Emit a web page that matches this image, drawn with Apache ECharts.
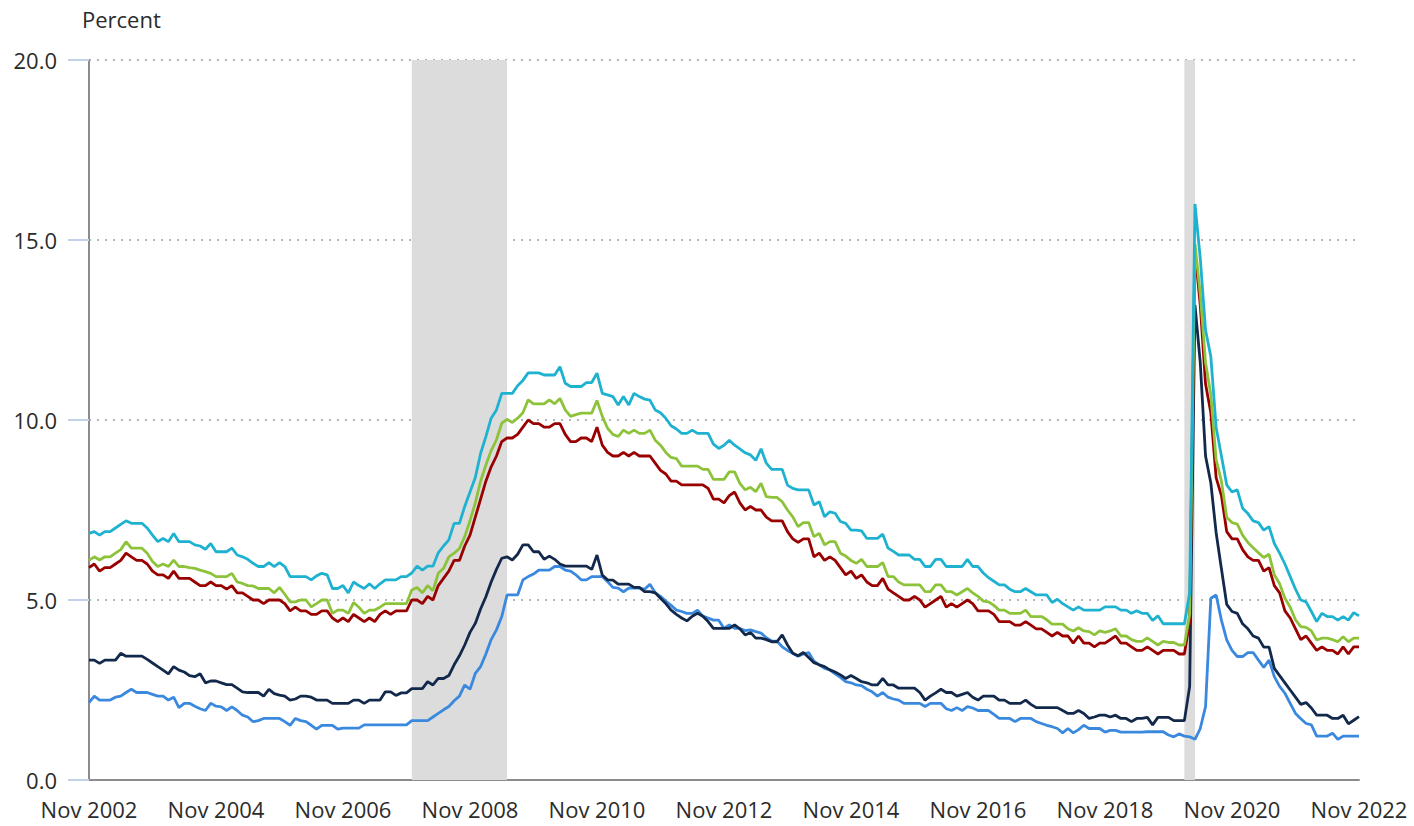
<!DOCTYPE html>
<html>
<head>
<meta charset="utf-8">
<title>Alternative measures of labor underutilization</title>
<script src="https://cdn.jsdelivr.net/npm/echarts@6/dist/echarts.min.js"></script>
<style>
  html, body { margin: 0; padding: 0; background: #fff; }
  #chart { width: 1414px; height: 826px; }
</style>
</head>
<body>
<div id="chart"></div>
<script>
// monthly, Nov 2002 .. Nov 2022 (each row starts in November)
const MONTHS = ['Jan', 'Feb', 'Mar', 'Apr', 'May', 'Jun', 'Jul', 'Aug', 'Sep', 'Oct', 'Nov', 'Dec'];
const categories = [];
for (let i = 0; i <= 240; i++) {
  const m = 10 + i;
  categories.push(MONTHS[m % 12] + ' ' + (2002 + Math.floor(m / 12)));
}

const yTicks = [0, 5, 10, 15, 20];

// recession shading, as [start, end] category labels
const recessions = [
  ['Dec 2007', 'Jun 2009'],
  ['Feb 2020', 'Apr 2020'],
];

const u1 = [
  2.15, 2.33, 2.22, 2.22, 2.22, 2.3, 2.33, 2.43, 2.52, 2.43, 2.43, 2.43,
  2.38, 2.33, 2.33, 2.22, 2.3, 2.01, 2.13, 2.13, 2.05, 1.98, 1.93, 2.13,
  2.05, 2.03, 1.93, 2.03, 1.93, 1.8, 1.75, 1.62, 1.65, 1.71, 1.71, 1.71,
  1.71, 1.62, 1.52, 1.71, 1.65, 1.62, 1.52, 1.41, 1.52, 1.52, 1.52, 1.41,
  1.44, 1.44, 1.44, 1.44, 1.53, 1.53, 1.53, 1.53, 1.53, 1.53, 1.53, 1.53,
  1.53, 1.65, 1.65, 1.65, 1.65, 1.75, 1.85, 1.95, 2.04, 2.2, 2.33, 2.64,
  2.52, 2.96, 3.15, 3.5, 3.9, 4.17, 4.54, 5.14, 5.14, 5.14, 5.56, 5.65,
  5.72, 5.83, 5.83, 5.83, 5.93, 5.93, 5.83, 5.8, 5.7, 5.56, 5.56, 5.65,
  5.65, 5.65, 5.51, 5.35, 5.33, 5.23, 5.33, 5.33, 5.33, 5.3, 5.44, 5.2,
  5.1, 4.97, 4.85, 4.72, 4.68, 4.63, 4.63, 4.72, 4.55, 4.5, 4.44, 4.44,
  4.21, 4.31, 4.21, 4.21, 4.15, 4.17, 4.12, 4.08, 3.95, 3.86, 3.86, 3.7,
  3.6, 3.52, 3.44, 3.5, 3.54, 3.3, 3.2, 3.1, 3.06, 2.95, 2.85, 2.73,
  2.7, 2.64, 2.62, 2.52, 2.45, 2.33, 2.43, 2.3, 2.25, 2.22, 2.13, 2.13,
  2.13, 2.13, 2.04, 2.13, 2.13, 2.13, 1.98, 1.93, 2.01, 1.93, 2.04, 2.0,
  1.93, 1.93, 1.93, 1.82, 1.71, 1.71, 1.71, 1.62, 1.71, 1.71, 1.71, 1.62,
  1.57, 1.52, 1.48, 1.43, 1.31, 1.43, 1.31, 1.4, 1.52, 1.43, 1.43, 1.43,
  1.33, 1.38, 1.38, 1.33, 1.33, 1.33, 1.33, 1.33, 1.34, 1.34, 1.34, 1.34,
  1.25, 1.2, 1.28, 1.22, 1.2, 1.13, 1.43, 2.04, 5.05, 5.14, 4.44, 3.89,
  3.6, 3.43, 3.43, 3.54, 3.54, 3.33, 3.13, 3.33, 2.87, 2.6, 2.41, 2.13,
  1.85, 1.7, 1.57, 1.53, 1.22, 1.22, 1.22, 1.3, 1.13, 1.22, 1.22, 1.22,
  1.22
];

const u2 = [
  3.33, 3.33, 3.24, 3.33, 3.33, 3.33, 3.52, 3.44, 3.44, 3.44, 3.44, 3.35,
  3.25, 3.15, 3.05, 2.95, 3.15, 3.05, 3.0, 2.9, 2.87, 2.95, 2.7, 2.75,
  2.75, 2.7, 2.65, 2.65, 2.55, 2.45, 2.43, 2.43, 2.43, 2.33, 2.52, 2.4,
  2.36, 2.33, 2.22, 2.25, 2.33, 2.33, 2.3, 2.22, 2.22, 2.22, 2.13, 2.13,
  2.13, 2.13, 2.22, 2.22, 2.13, 2.22, 2.22, 2.22, 2.45, 2.45, 2.35, 2.42,
  2.42, 2.54, 2.54, 2.54, 2.73, 2.64, 2.82, 2.82, 2.9, 3.2, 3.45, 3.75,
  4.1, 4.35, 4.75, 5.09, 5.5, 5.85, 6.16, 6.2, 6.11, 6.27, 6.53, 6.53,
  6.34, 6.34, 6.13, 6.22, 6.13, 6.0, 5.94, 5.94, 5.94, 5.94, 5.94, 5.85,
  6.25, 5.69, 5.56, 5.55, 5.44, 5.44, 5.44, 5.35, 5.35, 5.23, 5.23, 5.2,
  5.05, 4.9, 4.72, 4.6, 4.5, 4.42, 4.55, 4.63, 4.55, 4.4, 4.21, 4.21,
  4.21, 4.21, 4.31, 4.2, 4.03, 4.1, 3.94, 3.94, 3.9, 3.84, 3.84, 4.03,
  3.75, 3.52, 3.45, 3.54, 3.4, 3.26, 3.2, 3.15, 3.06, 3.0, 2.92, 2.82,
  2.9, 2.82, 2.73, 2.7, 2.64, 2.64, 2.82, 2.64, 2.64, 2.55, 2.55, 2.55,
  2.55, 2.43, 2.22, 2.33, 2.42, 2.52, 2.43, 2.43, 2.33, 2.38, 2.43, 2.3,
  2.22, 2.33, 2.33, 2.33, 2.22, 2.22, 2.13, 2.13, 2.13, 2.22, 2.1, 2.01,
  2.01, 2.01, 2.01, 2.01, 1.93, 1.85, 1.85, 1.93, 1.85, 1.71, 1.75, 1.8,
  1.8, 1.75, 1.8, 1.71, 1.71, 1.62, 1.71, 1.71, 1.74, 1.53, 1.74, 1.74,
  1.74, 1.65, 1.65, 1.65, 2.6, 13.2, 11.6, 9.0, 8.25, 6.87, 5.87, 4.88,
  4.68, 4.63, 4.34, 4.2, 4.0, 3.94, 3.69, 3.69, 3.1, 2.9, 2.7, 2.5,
  2.3, 2.1, 2.15, 2.0, 1.8, 1.8, 1.8, 1.71, 1.71, 1.8, 1.56, 1.66,
  1.76
];

const u3 = [
  5.9, 6.0, 5.8, 5.9, 5.9, 6.0, 6.1, 6.3, 6.2, 6.1, 6.1, 6.0,
  5.8, 5.7, 5.7, 5.6, 5.8, 5.6, 5.6, 5.6, 5.5, 5.4, 5.4, 5.5,
  5.4, 5.4, 5.3, 5.4, 5.2, 5.2, 5.1, 5.0, 5.0, 4.9, 5.0, 5.0,
  5.0, 4.9, 4.7, 4.8, 4.7, 4.7, 4.6, 4.6, 4.7, 4.7, 4.5, 4.4,
  4.5, 4.4, 4.6, 4.5, 4.4, 4.5, 4.4, 4.6, 4.7, 4.6, 4.7, 4.7,
  4.7, 5.0, 5.0, 4.9, 5.1, 5.0, 5.4, 5.6, 5.8, 6.1, 6.1, 6.5,
  6.8, 7.3, 7.8, 8.3, 8.7, 9.0, 9.4, 9.5, 9.5, 9.6, 9.8, 10.0,
  9.9, 9.9, 9.8, 9.8, 9.9, 9.9, 9.6, 9.4, 9.4, 9.5, 9.5, 9.4,
  9.8, 9.3, 9.1, 9.0, 9.0, 9.1, 9.0, 9.1, 9.0, 9.0, 9.0, 8.8,
  8.6, 8.5, 8.3, 8.3, 8.2, 8.2, 8.2, 8.2, 8.2, 8.1, 7.8, 7.8,
  7.7, 7.9, 8.0, 7.7, 7.5, 7.6, 7.5, 7.5, 7.3, 7.2, 7.2, 7.2,
  6.9, 6.7, 6.6, 6.7, 6.7, 6.2, 6.3, 6.1, 6.2, 6.1, 5.9, 5.7,
  5.8, 5.6, 5.7, 5.5, 5.4, 5.4, 5.6, 5.3, 5.2, 5.1, 5.0, 5.0,
  5.1, 5.0, 4.8, 4.9, 5.0, 5.1, 4.8, 4.9, 4.8, 4.9, 5.0, 4.9,
  4.7, 4.7, 4.7, 4.6, 4.4, 4.4, 4.4, 4.3, 4.3, 4.4, 4.3, 4.2,
  4.2, 4.1, 4.0, 4.1, 4.0, 4.0, 3.8, 4.0, 3.8, 3.8, 3.7, 3.8,
  3.8, 3.9, 4.0, 3.8, 3.8, 3.7, 3.6, 3.6, 3.7, 3.6, 3.5, 3.6,
  3.6, 3.6, 3.5, 3.5, 4.4, 14.7, 13.2, 11.0, 10.2, 8.4, 7.9, 6.9,
  6.7, 6.7, 6.4, 6.2, 6.1, 6.1, 5.8, 5.9, 5.4, 5.2, 4.7, 4.5,
  4.2, 3.9, 4.0, 3.8, 3.6, 3.7, 3.6, 3.6, 3.5, 3.7, 3.5, 3.7,
  3.7
];

const u4 = [
  6.1, 6.2, 6.11, 6.2, 6.2, 6.3, 6.4, 6.62, 6.44, 6.44, 6.44, 6.3,
  6.07, 5.93, 6.0, 5.93, 6.11, 5.93, 5.93, 5.9, 5.88, 5.83, 5.79, 5.74,
  5.65, 5.65, 5.65, 5.74, 5.5, 5.46, 5.4, 5.39, 5.32, 5.32, 5.32, 5.2,
  5.35, 5.16, 4.95, 4.95, 5.0, 5.0, 4.81, 4.9, 5.0, 5.0, 4.63, 4.72,
  4.72, 4.63, 4.93, 4.8, 4.63, 4.72, 4.72, 4.8, 4.9, 4.9, 4.9, 4.9,
  4.9, 5.28, 5.35, 5.2, 5.4, 5.26, 5.74, 5.88, 6.2, 6.3, 6.43, 6.76,
  7.2, 7.7, 8.3, 8.75, 9.15, 9.45, 9.91, 10.02, 9.93, 10.05, 10.2, 10.56,
  10.45, 10.45, 10.45, 10.56, 10.45, 10.6, 10.28, 10.1, 10.15, 10.19, 10.19, 10.19,
  10.54, 10.1, 9.77, 9.6, 9.54, 9.72, 9.63, 9.72, 9.63, 9.63, 9.72, 9.44,
  9.3, 9.1, 8.96, 8.93, 8.72, 8.72, 8.72, 8.72, 8.63, 8.63, 8.35, 8.35,
  8.35, 8.56, 8.56, 8.24, 8.06, 8.13, 8.01, 8.24, 7.87, 7.85, 7.85, 7.73,
  7.5, 7.31, 7.04, 7.15, 7.15, 6.76, 6.85, 6.53, 6.62, 6.62, 6.3, 6.22,
  6.1, 6.02, 6.13, 5.93, 5.93, 5.93, 6.04, 5.65, 5.65, 5.5, 5.42, 5.42,
  5.42, 5.42, 5.23, 5.23, 5.42, 5.42, 5.23, 5.23, 5.14, 5.23, 5.32, 5.2,
  5.1, 4.97, 4.95, 4.85, 4.72, 4.72, 4.63, 4.63, 4.63, 4.72, 4.54, 4.54,
  4.54, 4.45, 4.33, 4.33, 4.33, 4.2, 4.14, 4.23, 4.14, 4.12, 4.03, 4.14,
  4.1, 4.14, 4.2, 4.0, 4.0, 3.9, 3.85, 3.85, 3.95, 3.85, 3.75, 3.85,
  3.82, 3.82, 3.75, 3.75, 4.6, 14.9, 13.5, 11.6, 10.7, 8.9, 8.3, 7.3,
  7.15, 7.11, 6.8, 6.6, 6.45, 6.31, 6.18, 6.27, 5.7, 5.45, 5.05, 4.8,
  4.45, 4.26, 4.24, 4.14, 3.89, 3.94, 3.94, 3.9, 3.84, 3.98, 3.84, 3.94,
  3.94
];

const u5 = [
  6.85, 6.9, 6.8, 6.9, 6.9, 7.0, 7.1, 7.2, 7.13, 7.13, 7.13, 7.0,
  6.8, 6.62, 6.71, 6.62, 6.85, 6.62, 6.62, 6.62, 6.53, 6.5, 6.41, 6.57,
  6.34, 6.34, 6.34, 6.44, 6.25, 6.2, 6.13, 6.02, 5.93, 5.93, 6.04, 5.93,
  6.04, 5.93, 5.65, 5.65, 5.65, 5.65, 5.56, 5.67, 5.74, 5.7, 5.32, 5.32,
  5.4, 5.2, 5.5, 5.4, 5.32, 5.45, 5.32, 5.45, 5.56, 5.56, 5.56, 5.65,
  5.65, 5.75, 5.94, 5.83, 5.94, 5.94, 6.31, 6.5, 6.67, 7.13, 7.13, 7.6,
  8.0, 8.4, 9.07, 9.54, 10.05, 10.28, 10.74, 10.74, 10.74, 10.95, 11.1, 11.31,
  11.31, 11.31, 11.25, 11.25, 11.25, 11.48, 11.02, 10.93, 10.93, 10.93, 11.04, 11.04,
  11.3, 10.74, 10.7, 10.65, 10.42, 10.65, 10.42, 10.74, 10.65, 10.58, 10.55, 10.28,
  10.2, 10.05, 9.84, 9.75, 9.63, 9.63, 9.72, 9.63, 9.63, 9.63, 9.33, 9.21,
  9.3, 9.44, 9.3, 9.2, 9.09, 9.03, 8.88, 9.2, 8.8, 8.63, 8.63, 8.63,
  8.19, 8.1, 8.06, 8.06, 8.06, 7.64, 7.73, 7.31, 7.45, 7.41, 7.18, 7.13,
  6.94, 6.94, 6.92, 6.71, 6.71, 6.71, 6.83, 6.44, 6.35, 6.25, 6.25, 6.25,
  6.13, 6.13, 5.93, 5.93, 6.13, 6.13, 5.93, 5.93, 5.93, 5.93, 6.13, 5.93,
  5.93, 5.75, 5.62, 5.52, 5.42, 5.42, 5.3, 5.23, 5.23, 5.32, 5.23, 5.14,
  5.14, 5.14, 4.93, 5.02, 4.9, 4.81, 4.72, 4.81, 4.72, 4.72, 4.72, 4.72,
  4.81, 4.81, 4.81, 4.72, 4.72, 4.63, 4.7, 4.63, 4.63, 4.43, 4.56, 4.34,
  4.34, 4.34, 4.34, 4.34, 5.2, 16.0, 14.5, 12.5, 11.76, 9.8, 9.0, 8.2,
  8.0, 8.06, 7.55, 7.4, 7.2, 7.15, 6.94, 7.04, 6.57, 6.3, 6.0, 5.65,
  5.3, 5.0, 4.95, 4.68, 4.4, 4.63, 4.54, 4.54, 4.44, 4.54, 4.44, 4.65,
  4.56
];

const seriesList = [
  {name: 'U-1', data: u1, color: '#3a89de'},
  {name: 'U-2', data: u2, color: '#13294b'},
  {name: 'U-3', data: u3, color: '#990000'},
  {name: 'U-4', data: u4, color: '#8dc33b'},
  {name: 'U-5', data: u5, color: '#1fb2d0'},
];

const textColor = '#2b2b2b';
const font = '"Open Sans", "Noto Sans", sans-serif';

const chart = echarts.init(document.getElementById('chart'), null, {renderer: 'svg'});

chart.setOption({
  animation: false,
  backgroundColor: '#ffffff',
  textStyle: {fontFamily: font},
  title: {
    text: 'Percent',
    left: 77,
    top: 3,
    textStyle: {fontFamily: font, fontSize: 22, fontWeight: 'normal', color: textColor},
  },
  grid: {left: 89, right: 55, top: 60, bottom: 46},
  xAxis: {
    type: 'category',
    data: categories,
    boundaryGap: false,
    axisLine: {lineStyle: {color: '#8c8c8c', width: 2}},
    axisTick: {show: false},
    axisLabel: {
      interval: 23,
      margin: 18,
      fontSize: 22,
      color: textColor,
      fontFamily: font,
    },
    splitLine: {show: false},
  },
  yAxis: {
    type: 'value',
    min: yTicks[0],
    max: yTicks[yTicks.length - 1],
    interval: 5,
    axisLine: {show: true, lineStyle: {color: '#8c8c8c', width: 2}},
    axisTick: {show: true, length: 21, lineStyle: {color: '#c3d2e8', width: 2}},
    axisLabel: {
      margin: 32,
      fontSize: 22,
      color: textColor,
      fontFamily: font,
      formatter: v => v.toFixed(1),
    },
    splitLine: {show: true, lineStyle: {color: '#b4b4b4', width: 2, type: [2, 6]}},
  },
  series: seriesList.map((s, idx) => ({
    name: s.name,
    type: 'line',
    data: s.data,
    symbol: 'none',
    smooth: false,
    lineStyle: {color: s.color, width: 2.8},
    itemStyle: {color: s.color},
    z: 3 + idx,
    markArea: idx === 0 ? {
      silent: true,
      itemStyle: {color: '#dcdcdc'},
      data: recessions.map(r => [{xAxis: r[0]}, {xAxis: r[1]}]),
      z: 1,
    } : undefined,
  })),
});

window.addEventListener('resize', () => chart.resize());
</script>
</body>
</html>
